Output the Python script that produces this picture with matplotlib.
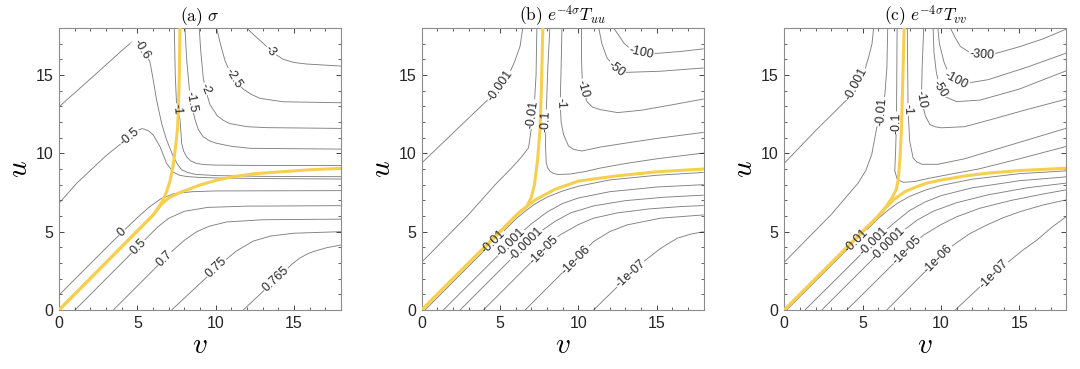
import matplotlib.pyplot as plt
from matplotlib.ticker import MultipleLocator

plt.rcParams['mathtext.fontset'] = 'cm'
plt.rcParams['font.family'] = ['Liberation Sans', 'DejaVu Sans']

# ---------------- panel (a): sigma ----------------
# each contour: (level label, v values, u values)
a_lines = [
    ("-0.6", [0, 2.0, 4.0, 4.64, 5.0, 5.4, 5.8, 5.98, 6.23, 6.55, 6.87, 7.3, 7.6, 7.83, 8.2, 8.7, 10, 13, 18],
             [12.97, 14.75, 16.55, 17.1, 17.15, 16.6, 15.85, 14.89, 13.4, 11.91, 10.85, 9.78, 9.25, 8.95, 8.78, 8.66, 8.58, 8.53, 8.51]),
    ("-0.5", [0, 1.13, 3.0, 4.5, 5.0, 5.3, 5.7, 6.02, 6.45, 6.87, 7.29, 7.7, 8.15, 9, 10, 13, 18],
             [6.81, 8.09, 9.85, 11.05, 11.45, 11.58, 11.45, 11.17, 10.42, 9.36, 8.8, 8.6, 8.52, 8.46, 8.43, 8.39, 8.36]),
    ("-1", [7.36, 7.42, 7.5, 7.62, 7.72, 7.78, 7.83, 7.95, 8.15, 8.4, 8.79, 9.3, 10.0, 12, 18],
           [18, 15, 13.2, 12.6, 12.2, 11.4, 10.64, 10.15, 9.78, 9.52, 9.35, 9.28, 9.25, 9.23, 9.22]),
    ("-1.5", [8.04, 8.15, 8.32, 8.55, 8.7, 8.9, 9.2, 9.6, 10.06, 11, 12.2, 18],
             [18, 16, 14.1, 12.7, 12.1, 11.5, 11.06, 10.8, 10.64, 10.45, 10.32, 10.27]),
    ("-2", [8.95, 9.05, 9.21, 9.4, 9.64, 10.1, 10.5, 10.9, 12, 13.25, 18],
           [18, 16.5, 14.8, 13.9, 13.1, 12.4, 12.1, 11.9, 11.7, 11.64, 11.59]),
    ("-2.5", [10.06, 10.3, 10.6, 11.0, 11.4, 11.76, 12.3, 12.83, 14.31, 18],
             [18, 17.0, 15.9, 15.0, 14.45, 14.1, 13.75, 13.51, 13.29, 13.23]),
    ("-3", [11.98, 12.5, 13.04, 13.7, 14.31, 15.0, 15.81, 18],
           [18, 17.5, 17.02, 16.4, 16.0, 15.8, 15.7, 15.57]),
    ("0", [0, 3.5, 5.0, 5.8, 6.5, 7.3, 8.5, 10, 18],
          [0.95, 4.45, 5.9, 6.6, 7.1, 7.42, 7.55, 7.6, 7.62]),
    ("0.5", [1.02, 5.5, 6.3, 7.0, 8.0, 9.5, 12, 18],
            [0, 4.5, 5.3, 5.85, 6.3, 6.55, 6.63, 6.66]),
    ("0.7", [3.47, 7.3, 8.0, 8.8, 9.6, 10.7, 13, 18],
            [0, 3.83, 4.45, 5.0, 5.35, 5.62, 5.76, 5.8]),
    ("0.75", [7.19, 10.4, 11.3, 12.4, 13.5, 15, 18],
             [0, 3.0, 3.75, 4.4, 4.72, 4.9, 5.0]),
    ("0.765", [11.76, 14.9, 15.35, 15.8, 16.2, 17.1, 18],
              [0, 2.95, 3.3, 3.55, 3.72, 3.98, 4.15]),
]
a_yellow = [
    ([0, 6.0, 6.5, 6.87, 7.08, 7.3, 7.45, 7.57, 7.62, 7.68, 7.72],
     [0, 6.05, 6.75, 7.55, 8.2, 9.3, 10.5, 11.6, 12.76, 15, 18]),
    ([0, 6.0, 6.5, 7.0, 7.6, 8.15, 9.0, 10, 11.12, 12.5, 14.31, 16, 18],
     [0, 6.05, 6.7, 7.15, 7.45, 7.66, 7.98, 8.27, 8.51, 8.7, 8.83, 8.95, 9.04]),
]

# ---------------- panel (b): e^{-4 sigma} T_uu ----------------
b_lines = [
    ("-0.001", [0, 2, 4.2, 5.0, 5.6, 5.95, 6.28, 6.45],
               [9.38, 11.3, 13.4, 14.3, 15.1, 15.9, 16.84, 18]),
    ("-0.01", [0, 3, 4.69, 5.75, 6.4, 6.82, 7.0, 7.2, 7.3, 7.35],
              [3.05, 6.1, 8.0, 9.08, 9.8, 10.36, 11.6, 13.3, 15.0, 18]),
    ("-0.1", [8.18, 8.05, 7.93, 7.9, 7.95, 8.05, 8.2, 8.4, 8.7, 9.5, 10.5, 11.4, 13, 15, 18],
             [18, 15.5, 12.06, 10.5, 9.4, 9.05, 8.85, 8.72, 8.65, 8.68, 8.85, 9.06, 9.35, 9.65, 10.02]),
    ("-1", [8.95, 8.9, 8.84, 8.9, 9.05, 9.37, 9.7, 10.23, 11.4, 13, 15, 18],
           [18, 15.5, 13.17, 12.0, 11.21, 10.47, 10.25, 10.15, 10.4, 10.65, 10.95, 11.34]),
    ("-10", [10.2, 10.2, 10.27, 10.55, 10.9, 11.4, 12.5, 14, 16, 18],
            [18, 16, 14.13, 13.3, 12.95, 12.79, 12.6, 12.75, 13.1, 13.47]),
    ("-50", [11.3, 11.5, 11.83, 12.42, 13.1, 15.24, 18],
            [18, 17.0, 16.09, 15.39, 15.17, 15.24, 15.45]),
    ("-100", [12.25, 12.6, 12.89, 13.4, 14.0, 15, 16.5, 18],
             [18, 17.5, 17.05, 16.6, 16.41, 16.38, 16.5, 16.67]),
    ("-0.01", [0.21, 6.0, 6.6, 7.2, 8, 9, 10, 12, 15, 18],
              [0, 5.8, 6.3, 6.75, 7.2, 7.6, 7.9, 8.3, 8.6, 8.78]),
    ("-0.001", [1.38, 6.2, 7, 8, 9, 10, 12, 15, 18],
               [0, 4.8, 5.5, 6.25, 6.8, 7.15, 7.55, 7.85, 8.0]),
    ("-0.0001", [2.45, 6.8, 7.5, 8.5, 9.5, 11, 13, 15.5, 18],
                [0, 4.35, 4.95, 5.65, 6.2, 6.65, 6.98, 7.2, 7.33]),
    ("-1e-05", [3.94, 7.8, 8.84, 10, 10.97, 12.5, 14.5, 16.5, 18],
               [0, 3.86, 4.8, 5.45, 5.86, 6.2, 6.45, 6.6, 6.67]),
    ("-1e-06", [6.6, 9.87, 10.97, 12, 13.1, 15.24, 18],
               [0, 3.27, 4.37, 5.0, 5.43, 5.86, 6.07]),
    ("-1e-07", [10.97, 13.32, 14.17, 15.2, 16.3, 17.2, 18],
               [0, 2.3, 3.09, 3.9, 4.58, 4.85, 5.0]),
]
b_yellow = [
    ([0, 6.2, 6.71, 7.0, 7.2, 7.4, 7.56, 7.65, 7.73],
     [0, 6.2, 6.6, 7.2, 8.01, 9.6, 11.64, 14.5, 18]),
    ([0, 6.2, 6.71, 7.2, 7.88, 8.5, 10.01, 12.36, 15, 18],
     [0, 6.2, 6.6, 7.0, 7.37, 7.7, 8.23, 8.55, 8.82, 9.0]),
]

# ---------------- panel (c): e^{-4 sigma} T_vv ----------------
c_lines = [
    ("-0.001", [0, 2, 3.99, 4.6, 5.1, 5.4, 5.6, 5.7],
               [9.37, 11.45, 13.42, 14.4, 15.2, 16.2, 17.0, 18]),
    ("-0.01", [0, 3, 4.71, 5.2, 5.58, 5.9, 6.2, 6.42, 6.55, 6.6],
              [3.05, 6.1, 8.1, 8.9, 9.92, 11.63, 12.65, 13.76, 15.5, 18]),
    ("-0.1", [7.2, 7.18, 7.16, 7.1, 7.05, 7.2, 7.6, 8.3, 9.2, 10.5, 12.4, 15, 18],
             [18, 15, 11.95, 10.0, 8.9, 8.35, 8.15, 8.2, 8.4, 8.65, 9.0, 9.65, 10.44]),
    ("-1", [7.85, 7.88, 7.9, 8.0, 8.22, 8.45, 8.8, 9.8, 11.5, 14, 16, 18],
           [18, 15, 12.8, 10.8, 9.71, 9.45, 9.3, 9.3, 9.65, 10.4, 11.0, 11.6]),
    ("-10", [8.9, 8.8, 8.75, 9.0, 9.29, 9.6, 10.03, 11.5, 13, 15.5, 18],
            [18, 15.5, 13.44, 12.4, 11.84, 11.7, 11.63, 11.7, 12.1, 12.8, 13.46]),
    ("-50", [9.5, 9.55, 9.7, 9.95, 10.3, 11, 12.5, 15, 18],
            [18, 16.5, 15.2, 14.1, 13.6, 13.3, 13.4, 14.1, 15.27]),
    ("-100", [9.8, 9.9, 10.2, 10.5, 10.97, 11.8, 13, 15.5, 18],
             [18, 17, 15.8, 15.1, 14.65, 14.5, 14.7, 15.5, 16.4]),
    ("-300", [10.6, 10.9, 11.23, 11.9, 12.61, 13.57, 15, 16.5, 18],
             [18, 17.4, 16.83, 16.4, 16.29, 16.4, 16.8, 17.3, 17.93]),
    ("-0.01", [0.15, 6.0, 6.6, 7.2, 8, 9, 10, 12, 15, 18],
              [0, 5.85, 6.35, 6.8, 7.25, 7.65, 7.95, 8.35, 8.7, 8.88]),
    ("-0.001", [1.32, 6.2, 7, 8, 9, 10, 12, 15, 18],
               [0, 4.85, 5.55, 6.35, 6.9, 7.3, 7.8, 8.25, 8.5]),
    ("-0.0001", [2.39, 6.8, 7.5, 8.5, 9.5, 11, 13, 15.5, 18],
                [0, 4.4, 5.0, 5.75, 6.3, 6.85, 7.35, 7.8, 8.1]),
    ("-1e-05", [3.99, 7.82, 8.84, 10, 11, 12.5, 14.5, 16.5, 18],
               [0, 3.8, 4.75, 5.45, 5.95, 6.5, 7.0, 7.4, 7.67]),
    ("-1e-06", [6.54, 9.84, 10.8, 11.8, 12.93, 14, 15.06, 16.5, 18],
               [0, 3.3, 4.15, 4.85, 5.43, 5.9, 6.28, 6.7, 7.03]),
    ("-1e-07", [10.91, 13.36, 14.21, 15.2, 16.13, 17.1, 18],
               [0, 2.3, 3.0, 3.8, 4.47, 5.3, 5.96]),
]
c_yellow = [
    ([0, 6.0, 6.5, 6.9, 7.15, 7.27, 7.38, 7.48, 7.56, 7.65],
     [0, 6.0, 6.6, 7.2, 7.7, 8.3, 9.6, 11.63, 14.5, 18]),
    ([0, 6.0, 6.5, 7.0, 7.69, 8.4, 9.1, 10.03, 11.5, 12.93, 15, 18],
     [0, 6.0, 6.55, 7.05, 7.55, 7.85, 8.1, 8.3, 8.55, 8.73, 8.9, 9.05]),
]

titles = [r"$\mathrm{(a)}\ \sigma$", r"$\mathrm{(b)}\ e^{-4\sigma}T_{uu}$",
          r"$\mathrm{(c)}\ e^{-4\sigma}T_{vv}$"]

# where the inline labels sit (v, u, rotation)
a_labels = [("-0.6", 5.3, 16.65, -58), ("-0.5", 4.5, 11.05, 40), ("-1", 7.52, 12.8, -86),
            ("-1.5", 8.45, 13.3, -80), ("-2", 9.35, 14.1, -68), ("-2.5", 11.15, 14.8, -58),
            ("-3", 13.5, 16.5, -48), ("0", 4.04, 4.95, 45), ("0.5", 5.06, 4.04, 45),
            ("0.7", 6.76, 3.29, 45), ("0.75", 10.06, 2.68, 43), ("0.765", 13.85, 1.96, 43)]
b_labels = [("-0.001", 5.0, 14.3, 55), ("-0.01", 7.1, 12.5, 82), ("-0.1", 7.93, 12.06, 88),
            ("-1", 8.84, 13.17, -88), ("-10", 10.27, 14.13, -75), ("-50", 12.42, 15.39, -38),
            ("-100", 14.0, 16.41, -12), ("-0.01", 4.6, 4.35, 45), ("-0.001", 5.69, 4.31, 45),
            ("-0.0001", 6.65, 4.2, 45), ("-1e-05", 7.8, 3.84, 45), ("-1e-06", 9.87, 3.2, 45),
            ("-1e-07", 13.32, 2.3, 42)]
c_labels = [("-0.001", 4.6, 14.4, 62), ("-0.01", 6.2, 12.65, 85), ("-0.1", 7.16, 11.95, 89),
            ("-1", 7.9, 12.8, -88), ("-10", 8.75, 13.44, -80), ("-50", 9.95, 14.1, -58),
            ("-100", 10.97, 14.65, -28), ("-300", 12.61, 16.29, -4), ("-0.01", 4.63, 4.4, 45),
            ("-0.001", 5.73, 4.35, 45), ("-0.0001", 6.65, 4.25, 45), ("-1e-05", 7.82, 3.8, 45),
            ("-1e-06", 9.84, 3.25, 45), ("-1e-07", 13.36, 2.3, 45)]

fig = plt.figure(figsize=(10.8, 3.69), dpi=100)
lefts = [59 / 1080, 421.7 / 1080, 784.3 / 1080]
panels = [(a_lines, a_yellow, a_labels), (b_lines, b_yellow, b_labels), (c_lines, c_yellow, c_labels)]

gray = '#808080'
gold = '#f7cf4f'

for i, (lines, yellow, labels) in enumerate(panels):
    ax = fig.add_axes([lefts[i], 59 / 369, 282 / 1080, 282 / 369])
    for name, v, u in lines:
        ax.plot(v, u, color=gray, lw=0.65, zorder=1, solid_capstyle='butt')
    for v, u in yellow:
        ax.plot(v, u, color=gold, lw=2.2, zorder=3, solid_capstyle='round')
    for txt, v, u, rot in labels:
        # white box makes the gap in the line, the text goes on top
        ax.text(v, u, txt, fontsize=9, rotation=rot, ha='center', va='center',
                rotation_mode='anchor', color='white', zorder=2,
                bbox=dict(fc='white', ec='none', pad=0.5))
        ax.text(v, u, txt, fontsize=9, rotation=rot, ha='center', va='center',
                rotation_mode='anchor', color='#262626', zorder=4)
    ax.set_xlim(0, 18)
    ax.set_ylim(0, 18)
    ax.xaxis.set_major_locator(MultipleLocator(5))
    ax.yaxis.set_major_locator(MultipleLocator(5))
    ax.xaxis.set_minor_locator(MultipleLocator(1))
    ax.yaxis.set_minor_locator(MultipleLocator(1))
    ax.tick_params(which='both', direction='in', top=True, right=True, colors='#262626',
                   labelsize=11.5)
    ax.tick_params(which='major', length=3.5, width=0.6, pad=4)
    ax.tick_params(which='minor', length=2, width=0.5)
    for s in ax.spines.values():
        s.set_color('#8c8c8c')
        s.set_linewidth(0.8)
    ax.set_title(titles[i], fontsize=12.5, pad=4)
    ax.set_xlabel(r"$v$", fontsize=21, labelpad=0)
    ax.set_ylabel(r"$u$", fontsize=21, labelpad=2)

fig.savefig("out.png", dpi=100)
